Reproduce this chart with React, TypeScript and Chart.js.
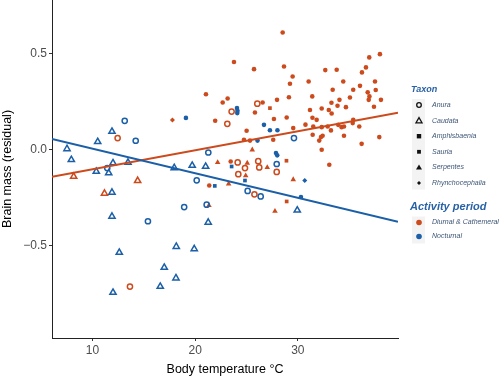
import { useEffect, useRef } from 'react';
import { Chart, registerables } from 'chart.js';

Chart.register(...registerables);

const ORANGE = '#CC4A1C';
const BLUE = '#1A5FA8';
const FONT = '"Liberation Sans", Arial, sans-serif';

// Axis ranges and ticks
const xRange = [6.06, 39.75];
const yRange = [-0.98, 0.78];
const xTicks = [10, 20, 30];
const yTicks = [-0.5, 0, 0.5];

// Regression lines (values at the x-range ends)
const fitX = [6.06, 39.75];
const fitDiurnal = [-0.14, 0.193];
const fitNocturnal = [0.057, -0.375];

// Legend labels
const taxa = ['Anura', 'Caudata', 'Amphisbaenia', 'Sauria', 'Serpentes', 'Rhynchocephalia'];
const activities = ['Diurnal & Cathemeral', 'Nocturnal'];

// Diurnal & Cathemeral
const diurnalAnura: number[][] = [
  [12.45, 0.061], [13.65, -0.712], [23.13, 0.135], [23.55, 0.199], [26.05, 0.24],
  [24.14, -0.066], [26.14, -0.059], [26.24, -0.092], [27.94, -0.115], [24.2, -0.127],
  [24.85, -0.095], [25.77, -0.232],
];
const diurnalCaudata: number[][] = [
  [8.17, -0.139], [14.4, -0.161], [11.17, -0.227],
];
const diurnalAmphisbaenia: number[][] = [
  [27.28, 0.217], [28.91, -0.269], [28.89, -0.057],
];
const diurnalSauria: number[][] = [
  [28.52, 0.611], [23.78, 0.457], [25.73, 0.42], [28.65, 0.434], [29.49, 0.382],
  [29.23, 0.344], [31.05, 0.356], [32.67, 0.415], [33.78, 0.417], [36.95, 0.481],
  [37.99, 0.498], [36.63, 0.429], [36.24, 0.403], [34.42, 0.356], [36.05, 0.333],
  [37.51, 0.356], [33.39, 0.313], [35.39, 0.313], [36.8, 0.299], [36.97, 0.278],
  [36.9, 0.26], [37.58, 0.311], [38.09, 0.26], [21.05, 0.289], [22.68, 0.246],
  [23.16, 0.267], [27.97, 0.26], [29.13, 0.274], [31.4, 0.278], [34.05, 0.26],
  [35.07, 0.272], [33.27, 0.245], [32.32, 0.215], [31.18, 0.207], [33.01, 0.207],
  [33.29, 0.189], [33.86, 0.229], [34.68, 0.222], [37.41, 0.224], [26.57, 0.246],
  [25.82, 0.194], [27.67, 0.16], [21.95, 0.151], [28.91, 0.168], [29.55, 0.113],
  [30.74, 0.131], [31.42, 0.167], [31.83, 0.156], [31.5, 0.121], [32.32, 0.118],
  [32.9, 0.121], [33.22, 0.101], [33.93, 0.13], [34.26, 0.118], [34.49, 0.121],
  [35.34, 0.139], [35.39, 0.156], [35.98, 0.121], [25.01, 0.099], [27.6, 0.052],
  [31.44, 0.078], [32.25, 0.066], [32.41, 0.073], [32.08, 0.048], [34.49, 0.073],
  [36.21, 0.031], [37.93, 0.066], [32.32, 0.0], [33.06, -0.078], [25.34, 0.048],
  [24.75, 0.052], [23.46, -0.061], [21.37, -0.186],
];
const diurnalSerpentes: number[][] = [
  [25.56, 0.0], [22.19, -0.066], [25.07, -0.069], [27.02, -0.092], [24.92, -0.135],
  [23.26, -0.177], [21.34, -0.29], [29.55, -0.155], [27.77, -0.32],
];
const diurnalRhyncho: number[][] = [
  [17.79, 0.155],
];

// Nocturnal
const nocturnalAnura: number[][] = [
  [13.14, 0.151], [14.21, 0.047], [11.44, -0.095], [20.15, -0.159], [15.4, -0.372],
  [18.93, -0.298], [21.12, -0.286], [21.28, -0.014], [25.11, -0.214], [26.38, -0.243],
  [27.94, -0.074], [29.62, 0.061],
];
const nocturnalCaudata: number[][] = [
  [11.9, 0.095], [10.51, 0.042], [7.52, 0.005], [7.94, -0.052], [12.0, -0.069],
  [13.46, -0.066], [10.37, -0.113], [11.58, -0.121], [11.9, -0.222], [11.9, -0.347],
  [12.61, -0.535], [18.16, -0.504], [19.91, -0.516], [16.99, -0.613], [18.13, -0.668],
  [16.6, -0.712], [12.0, -0.743], [17.96, -0.094], [19.71, -0.082], [21.02, -0.087],
  [21.27, -0.378], [29.94, -0.315],
];
const nocturnalAmphisbaenia: number[][] = [
  [21.91, -0.188], [23.55, -0.087], [24.85, -0.16],
];
const nocturnalSauria: number[][] = [
  [19.1, 0.166], [24.07, 0.217], [24.12, 0.203], [24.1, 0.191], [26.7, 0.13],
  [27.28, 0.102], [28.01, 0.102], [26.07, 0.048], [27.87, -0.017], [27.99, -0.029],
  [30.3, -0.246],
];
const nocturnalRhyncho: number[][] = [
  [30.67, -0.16],
];

const toPts = (arr: number[][]) => arr.map(([x, y]) => ({ x, y }));

type Shape = 'openCircle' | 'openTriangle' | 'square' | 'dot' | 'triangle' | 'diamond';

const shapeStyle = (shape: Shape, color: string) => {
  switch (shape) {
    case 'openCircle':
      return { pointStyle: 'circle', pointRadius: 2.6, pointBackgroundColor: 'rgba(255,255,255,0)', pointBorderColor: color, pointBorderWidth: 1.5 };
    case 'openTriangle':
      return { pointStyle: 'triangle', pointRadius: 3.6, pointBackgroundColor: 'rgba(255,255,255,0)', pointBorderColor: color, pointBorderWidth: 1.5 };
    case 'square':
      return { pointStyle: 'rect', pointRadius: 2.6, pointBackgroundColor: color, pointBorderColor: color, pointBorderWidth: 0 };
    case 'dot':
      return { pointStyle: 'circle', pointRadius: 2.3, pointBackgroundColor: color, pointBorderColor: color, pointBorderWidth: 0 };
    case 'triangle':
      return { pointStyle: 'triangle', pointRadius: 3.2, pointBackgroundColor: color, pointBorderColor: color, pointBorderWidth: 0 };
    case 'diamond':
    default:
      return { pointStyle: 'rectRot', pointRadius: 2.5, pointBackgroundColor: color, pointBorderColor: color, pointBorderWidth: 0 };
  }
};

const drawShape = (ctx: CanvasRenderingContext2D, shape: string, x: number, y: number, color: string) => {
  ctx.save();
  ctx.fillStyle = color;
  ctx.strokeStyle = color;
  ctx.lineWidth = 1.3;
  ctx.beginPath();
  if (shape === 'openCircle') {
    ctx.arc(x, y, 2.3, 0, Math.PI * 2);
    ctx.stroke();
  } else if (shape === 'openTriangle') {
    ctx.moveTo(x, y - 3);
    ctx.lineTo(x - 3, y + 2.2);
    ctx.lineTo(x + 3, y + 2.2);
    ctx.closePath();
    ctx.stroke();
  } else if (shape === 'square') {
    ctx.rect(x - 2.2, y - 2.2, 4.4, 4.4);
    ctx.fill();
  } else if (shape === 'dot') {
    ctx.rect(x - 1.9, y - 1.9, 3.8, 3.8);
    ctx.fill();
  } else if (shape === 'triangle') {
    ctx.moveTo(x, y - 3);
    ctx.lineTo(x - 3, y + 2.2);
    ctx.lineTo(x + 3, y + 2.2);
    ctx.closePath();
    ctx.fill();
  } else {
    ctx.moveTo(x, y - 2);
    ctx.lineTo(x + 2, y);
    ctx.lineTo(x, y + 2);
    ctx.lineTo(x - 2, y);
    ctx.closePath();
    ctx.fill();
  }
  ctx.restore();
};

const legendShapes: Shape[] = ['openCircle', 'openTriangle', 'square', 'dot', 'triangle', 'diamond'];

const legendPlugin = {
  id: 'customLegend',
  afterDraw(chart: any) {
    const ctx: CanvasRenderingContext2D = chart.ctx;
    const area = chart.chartArea;
    const x0 = area.right + 13;
    ctx.save();
    ctx.textBaseline = 'middle';
    ctx.textAlign = 'left';
    // Taxon
    ctx.fillStyle = '#2a62a6';
    ctx.font = `italic bold 9px ${FONT}`;
    ctx.fillText('Taxon', x0, 90);
    const taxStep = 15.6;
    const taxTop = 105;
    ctx.fillStyle = '#f3f3f3';
    ctx.fillRect(x0 + 1, taxTop - 6, 13, taxStep * taxa.length - 3);
    taxa.forEach((t, i) => {
      const y = taxTop + i * taxStep;
      drawShape(ctx, legendShapes[i], x0 + 8, y, '#111');
      ctx.fillStyle = '#3f5677';
      ctx.font = `italic 7px ${FONT}`;
      ctx.fillText(t, x0 + 21, y);
    });
    // Activity period
    ctx.fillStyle = '#2a62a6';
    ctx.font = `italic bold 11px ${FONT}`;
    ctx.fillText('Activity period', x0 - 1, 207);
    const actTop = 222.5;
    ctx.fillStyle = '#f3f3f3';
    ctx.fillRect(x0 + 1, actTop - 6, 13, 27);
    activities.forEach((a, i) => {
      const y = actTop + i * 14;
      ctx.fillStyle = i === 0 ? ORANGE : BLUE;
      ctx.beginPath();
      ctx.arc(x0 + 8, y, 2.8, 0, Math.PI * 2);
      ctx.fill();
      ctx.fillStyle = '#3f5677';
      ctx.font = `italic 7px ${FONT}`;
      ctx.fillText(a, x0 + 21, y);
    });
    ctx.restore();
  },
};

export default function App() {
  const ref = useRef<HTMLCanvasElement | null>(null);

  useEffect(() => {
    if (!ref.current) return;
    const lineDs = (ys: number[], color: string, label: string) => ({
      type: 'line' as const,
      label,
      data: fitX.map((x, i) => ({ x, y: ys[i] })),
      borderColor: color,
      borderWidth: 2,
      pointRadius: 0,
      fill: false,
      showLine: true,
    });
    const ptsDs = (arr: number[][], shape: Shape, color: string, label: string) => ({
      type: 'scatter' as const,
      label,
      data: toPts(arr),
      ...shapeStyle(shape, color),
    });

    const chart = new Chart(ref.current, {
      type: 'scatter',
      data: {
        datasets: [
          lineDs(fitNocturnal, BLUE, 'fitN'),
          lineDs(fitDiurnal, ORANGE, 'fitD'),
          ptsDs(nocturnalAnura, 'openCircle', BLUE, 'nA'),
          ptsDs(nocturnalCaudata, 'openTriangle', BLUE, 'nC'),
          ptsDs(nocturnalAmphisbaenia, 'square', BLUE, 'nAm'),
          ptsDs(nocturnalSauria, 'dot', BLUE, 'nS'),
          ptsDs(nocturnalRhyncho, 'diamond', BLUE, 'nR'),
          ptsDs(diurnalAnura, 'openCircle', ORANGE, 'dA'),
          ptsDs(diurnalCaudata, 'openTriangle', ORANGE, 'dC'),
          ptsDs(diurnalAmphisbaenia, 'square', ORANGE, 'dAm'),
          ptsDs(diurnalSauria, 'dot', ORANGE, 'dS'),
          ptsDs(diurnalSerpentes, 'triangle', ORANGE, 'dSe'),
          ptsDs(diurnalRhyncho, 'diamond', ORANGE, 'dR'),
        ] as any,
      },
      options: {
        animation: false,
        responsive: false,
        devicePixelRatio: 1,
        layout: { autoPadding: false, padding: { left: 0, right: 102, top: 0, bottom: 0 } },
        plugins: { legend: { display: false }, tooltip: { enabled: false } },
        scales: {
          x: {
            type: 'linear',
            min: xRange[0],
            max: xRange[1],
            afterBuildTicks: (s: any) => { s.ticks = xTicks.map((v) => ({ value: v })); },
            afterFit: (s: any) => { s.height = 39; s.paddingLeft = 0; s.paddingRight = 0; },
            ticks: {
              color: '#4d4d4d',
              font: { size: 12, family: FONT },
              padding: 2,
              maxRotation: 0,
              callback: (v: any) => String(v),
            },
            grid: { drawOnChartArea: false, drawTicks: true, tickLength: 3, color: '#333', lineWidth: 1 },
            border: { display: true, color: '#222', width: 1 },
            title: { display: true, text: 'Body temperature °C', color: '#000', font: { size: 12.5, family: FONT }, padding: { top: 0, bottom: 0 } },
          },
          y: {
            type: 'linear',
            min: yRange[0],
            max: yRange[1],
            afterBuildTicks: (s: any) => { s.ticks = yTicks.map((v) => ({ value: v })); },
            afterFit: (s: any) => { s.width = 52; s.paddingTop = 0; s.paddingBottom = 0; },
            ticks: {
              color: '#4d4d4d',
              font: { size: 12, family: FONT },
              padding: 2,
              callback: (v: any) => (v < 0 ? '\u2212' : '') + Math.abs(Number(v)).toFixed(1),
            },
            grid: { drawOnChartArea: false, drawTicks: true, tickLength: 3, color: '#333', lineWidth: 1 },
            border: { display: true, color: '#222', width: 1 },
            title: { display: true, text: 'Brain mass (residual)', color: '#000', font: { size: 12.5, family: FONT }, padding: { top: 0, bottom: 0 } },
          },
        },
      } as any,
      plugins: [legendPlugin],
    });
    return () => chart.destroy();
  }, []);

  return (
    <div style={{ position: 'absolute', left: 0, top: 0, width: 500, height: 377, background: '#fff' }}>
      <canvas ref={ref} width={500} height={377} style={{ width: 500, height: 377, display: 'block' }} />
    </div>
  );
}
